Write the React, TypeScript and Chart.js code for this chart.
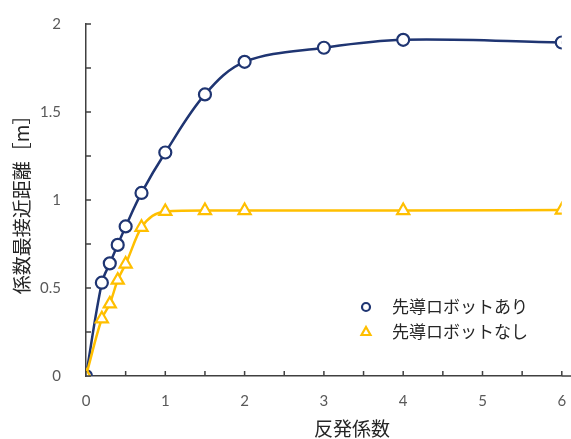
import React, { useEffect, useRef } from "react";
import { Chart, registerables } from "chart.js";

Chart.register(...registerables);

// Data
const xWith = [0, 0.2, 0.3, 0.4, 0.5, 0.7, 1, 1.5, 2, 3, 4, 6];
const yWith = [0, 0.53, 0.64, 0.745, 0.85, 1.04, 1.27, 1.6, 1.785, 1.865, 1.91, 1.895];
const xWithout = [0, 0.2, 0.3, 0.4, 0.5, 0.7, 1, 1.5, 2, 4, 6];
const yWithout = [0, 0.325, 0.41, 0.545, 0.636, 0.845, 0.935, 0.94, 0.94, 0.94, 0.943];

const seriesNames = ["先導ロボットあり", "先導ロボットなし"];
const xTitle = "反発係数";
const yTitle = "係数最接近距離［m］";
const xMinorTicks = [0, 0.5, 1, 1.5, 2, 2.5, 3, 3.5, 4, 4.5, 5, 5.5, 6];
const yMinorTicks = [0, 0.25, 0.5, 0.75, 1, 1.25, 1.5, 1.75, 2];

const NAVY = "#1f3572";
const GOLD = "#ffbf00";
const AXIS = "#404040";
const TICK_TEXT = "#595959";
const NUM_FONT = "Lato, 'Open Sans', sans-serif";
const JP_FONT = "'Noto Sans CJK JP', sans-serif";

const decorPlugin = {
  id: "decor",
  afterDraw(chart: any) {
    const ctx = chart.ctx;
    const xs = chart.scales.x;
    const ys = chart.scales.y;
    const area = chart.chartArea;
    ctx.save();
    // inward ticks
    ctx.strokeStyle = AXIS;
    ctx.lineWidth = 1.5;
    ctx.beginPath();
    xMinorTicks.forEach((v) => {
      const px = xs.getPixelForValue(v);
      ctx.moveTo(px, area.bottom);
      ctx.lineTo(px, area.bottom - 5);
    });
    yMinorTicks.forEach((v) => {
      const py = ys.getPixelForValue(v);
      ctx.moveTo(area.left, py);
      ctx.lineTo(area.left + 5, py);
    });
    // extend x axis line to the right edge
    ctx.moveTo(area.right, area.bottom);
    ctx.lineTo(chart.width, area.bottom);
    ctx.stroke();

    // axis titles
    ctx.fillStyle = "#262626";
    ctx.font = `19px ${JP_FONT}`;
    ctx.textAlign = "center";
    ctx.textBaseline = "middle";
    ctx.fillText(xTitle, 352, 429);
    ctx.save();
    ctx.translate(22, 200);
    ctx.rotate(-Math.PI / 2);
    ctx.fillText(yTitle, 0, 0);
    ctx.restore();

    // legend
    const ds = chart.data.datasets;
    const rows = [307, 332];
    ds.forEach((d: any) => {
      const idx = seriesNames.indexOf(d.label);
      const y = rows[idx];
      const mx = 366;
      ctx.lineWidth = 2.2;
      ctx.strokeStyle = d.borderColor;
      ctx.fillStyle = "#ffffff";
      ctx.beginPath();
      if (d.pointStyle === "circle") {
        ctx.arc(mx, y, 4, 0, Math.PI * 2);
      } else {
        ctx.moveTo(mx, y - 5);
        ctx.lineTo(mx + 4.5, y + 3);
        ctx.lineTo(mx - 4.5, y + 3);
        ctx.closePath();
      }
      ctx.fill();
      ctx.stroke();
      ctx.fillStyle = "#262626";
      ctx.font = `17px ${JP_FONT}`;
      ctx.textAlign = "left";
      ctx.textBaseline = "middle";
      ctx.fillText(d.label, 392, y);
    });
    ctx.restore();
  },
};

export default function App() {
  const ref = useRef<HTMLCanvasElement | null>(null);
  useEffect(() => {
    if (!ref.current) return;
    const chart = new Chart(ref.current, {
      type: "line",
      data: {
        datasets: [
          {
            label: seriesNames[0],
            data: xWith.map((x, i) => ({ x, y: yWith[i] })),
            borderColor: NAVY,
            backgroundColor: "#ffffff",
            borderWidth: 2.5,
            pointStyle: "circle",
            pointRadius: 6,
            pointBorderWidth: 2.2,
            pointBackgroundColor: "#ffffff",
            pointBorderColor: NAVY,
            tension: 0.35,
            order: 1,
          },
          {
            label: seriesNames[1],
            data: xWithout.map((x, i) => ({ x, y: yWithout[i] })),
            borderColor: GOLD,
            backgroundColor: "#ffffff",
            borderWidth: 2.5,
            pointStyle: "triangle",
            pointRadius: 7,
            pointBorderWidth: 2.2,
            pointBackgroundColor: "#ffffff",
            pointBorderColor: GOLD,
            cubicInterpolationMode: "monotone",
            order: 0,
          },
        ],
      },
      options: {
        animation: false,
        responsive: false,
        devicePixelRatio: 1,
        layout: { padding: { top: 24, right: 7, left: 0, bottom: 0 } },
        plugins: { legend: { display: false }, tooltip: { enabled: false } },
        scales: {
          x: {
            type: "linear",
            min: 0,
            max: 6,
            grid: { display: false },
            border: { display: true, color: AXIS, width: 1.5 },
            ticks: {
              stepSize: 1,
              color: TICK_TEXT,
              font: { size: 15, family: NUM_FONT },
              padding: 8,
              maxRotation: 0,
              callback: (v: any) => `${Number(v)}`,
            },
            afterFit: (s: any) => {
              s.height = 63;
              s.paddingLeft = 0;
              s.paddingRight = 0;
            },
          },
          y: {
            min: 0,
            max: 2,
            grid: { display: false },
            border: { display: true, color: AXIS, width: 1.5 },
            ticks: {
              stepSize: 0.5,
              color: TICK_TEXT,
              font: { size: 15, family: NUM_FONT },
              padding: 17,
              callback: (v: any) => `${Number(v)}`,
            },
            afterFit: (s: any) => {
              s.width = 86;
              s.paddingTop = 0;
              s.paddingBottom = 0;
            },
          },
        },
      },
      plugins: [decorPlugin],
    } as any);
    return () => chart.destroy();
  }, []);
  return (
    <div style={{ position: "absolute", left: 0, top: 0, width: 571, height: 439, background: "#fff" }}>
      <canvas ref={ref} width={571} height={439} style={{ width: 571, height: 439 }} />
    </div>
  );
}
